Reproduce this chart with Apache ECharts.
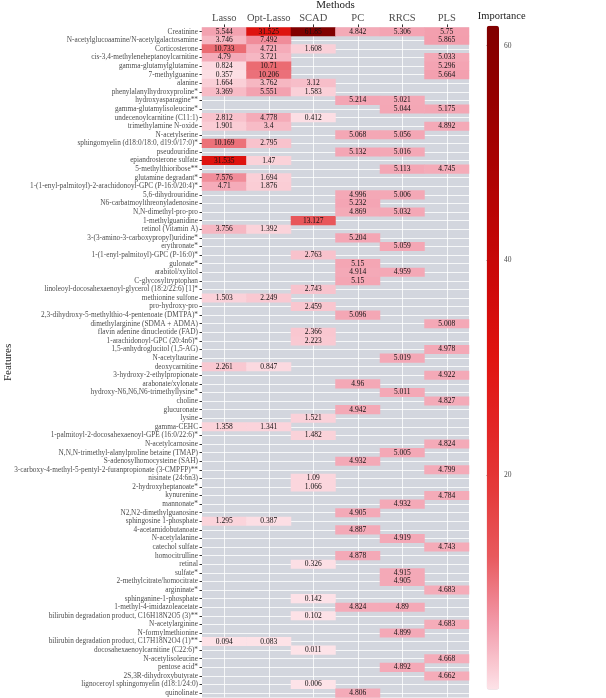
<!DOCTYPE html>
<html><head><meta charset="utf-8">
<script src="https://cdn.jsdelivr.net/npm/echarts@6/dist/echarts.min.js"></script>
<style>html,body{margin:0;padding:0;background:#fff}#c{width:606px;height:698px}</style>
</head><body><div id="c"></div>
<script>
const _ = null;
const methods = ['Lasso','Opt-Lasso','SCAD','PC','RRCS','PLS'];
const features = [
'Creatinine','N-acetylglucoaamine/N-acetylgalactosamine','Corticosterone','cis-3,4-methyleneheptanoylcarnitine','gamma-glutamylglutamine',
'7-methylguanine','alanine','phenylalanylhydroxyproline*','hydroxyasparagine**','gamma-glutamylisoleucine*',
'undecenoylcarnitine (C11:1)','trimethylamine N-oxide','N-acetylserine','sphingomyelin (d18:0/18:0, d19:0/17:0)*','pseudouridine',
'epiandrosterone sulfate','5-methylthioribose**','glutamine degradant*','1-(1-enyl-palmitoyl)-2-arachidonoyl-GPC (P-16:0/20:4)*','5,6-dihydrouridine',
'N6-carbatmoylthreonyladenosine','N,N-dimethyl-pro-pro','1-methylguanidine','retinol (Vitamin A)','3-(3-amino-3-carboxypropyl)uridine*',
'erythronate*','1-(1-enyl-palmitoyl)-GPC (P-16:0)*','gulonate*','arabitol/xylitol','C-glycosyltryptophan',
'linoleoyl-docosahexaenoyl-glycerol (18:2/22:6) [1]*','methionine sulfone','pro-hydroxy-pro','2,3-dihydroxy-5-methylthio-4-pentenoate (DMTPA)*','dimethylarginine (SDMA + ADMA)',
'flavin adenine dinucleotide (FAD)','1-arachidonoyl-GPC (20:4n6)*','1,5-anhydroglucitol (1,5-AG)','N-acetyltaurine','deoxycarnitine',
'3-hydroxy-2-ethylpropionate','arabonate/xylonate','hydroxy-N6,N6,N6-trimethyllysine*','choline','glucuronate',
'lysine','gamma-CEHC','1-palmitoyl-2-docosahexaenoyl-GPE (16:0/22:6)*','N-acetylcarnosine','N,N,N-trimethyl-alanylproline betaine (TMAP)',
'S-adenosylhomocysteine (SAH)','3-carboxy-4-methyl-5-pentyl-2-furanpropionate (3-CMPFP)**','nisinate (24:6n3)','2-hydroxyheptanoate*','kynurenine',
'mannonate*','N2,N2-dimethylguanosine','sphingosine 1-phosphate','4-acetamidobutanoate','N-acetylalanine',
'catechol sulfate','homocitrulline','retinal','sulfate*','2-methylcitrate/homocitrate',
'argininate*','sphinganine-1-phosphate','1-methyl-4-imidazoleacetate','bilirubin degradation product, C16H18N2O5 (3)**','N-acetylarginine',
'N-formylmethionine','bilirubin degradation product, C17H18N2O4 (1)**','docosahexaenoylcarnitine (C22:6)*','N-acetylisoleucine','pentose acid*',
'2S,3R-dihydroxybutyrate','lignoceroyl sphingomyelin (d18:1/24:0)','quinolinate'
];
const lasso = [
 5.544,3.746,10.733,4.79,0.824,0.357,1.664,3.369,_,_,
 2.812,1.901,_,10.169,_,31.535,_,7.576,4.71,_,
 _,_,_,3.756,_,_,_,_,_,_,
 _,1.503,_,_,_,_,_,_,_,2.261,
 _,_,_,_,_,_,1.358,_,_,_,
 _,_,_,_,_,_,_,1.295,_,_,
 _,_,_,_,_,_,_,_,_,_,
 _,0.094,_,_,_,_,_,_
];
const optLasso = [
 31.525,7.492,4.721,3.721,10.71,10.206,3.762,5.551,_,_,
 4.778,3.4,_,2.795,_,1.47,_,1.694,1.876,_,
 _,_,_,1.392,_,_,_,_,_,_,
 _,2.249,_,_,_,_,_,_,_,0.847,
 _,_,_,_,_,_,1.341,_,_,_,
 _,_,_,_,_,_,_,0.387,_,_,
 _,_,_,_,_,_,_,_,_,_,
 _,0.083,_,_,_,_,_,_
];
const scad = [
 61.85,_,1.608,_,_,_,3.12,1.583,_,_,
 0.412,_,_,_,_,_,_,_,_,_,
 _,_,13.127,_,_,_,2.763,_,_,_,
 2.743,_,2.459,_,_,2.366,2.223,_,_,_,
 _,_,_,_,_,1.521,_,1.482,_,_,
 _,_,1.09,1.066,_,_,_,_,_,_,
 _,_,0.326,_,_,_,0.142,_,0.102,_,
 _,_,0.011,_,_,_,0.006,_
];
const pc = [
 4.842,_,_,_,_,_,_,_,5.214,_,
 _,_,5.068,_,5.132,_,_,_,_,4.996,
 5.232,4.869,_,_,5.204,_,_,5.15,4.914,5.15,
 _,_,_,5.096,_,_,_,_,_,_,
 _,4.96,_,_,4.942,_,_,_,_,_,
 4.932,_,_,_,_,_,4.905,_,4.887,_,
 _,4.878,_,_,_,_,_,4.824,_,_,
 _,_,_,_,_,_,_,4.806
];
const rrcs = [
 5.306,_,_,_,_,_,_,_,5.021,5.044,
 _,_,5.056,_,5.016,_,5.113,_,_,5.006,
 _,5.032,_,_,_,5.059,_,_,4.959,_,
 _,_,_,_,_,_,_,_,5.019,_,
 _,_,5.011,_,_,_,_,_,_,5.005,
 _,_,_,_,_,4.932,_,_,_,4.919,
 _,_,_,4.915,4.905,_,_,4.89,_,_,
 4.899,_,_,_,4.892,_,_,_
];
const pls = [
 5.75,5.865,_,5.033,5.296,5.664,_,_,_,5.175,
 _,4.892,_,_,_,_,4.745,_,_,_,
 _,_,_,_,_,_,_,_,_,_,
 _,_,_,_,5.008,_,_,4.978,_,_,
 4.922,_,_,4.827,_,_,_,_,4.824,_,
 _,4.799,_,_,4.784,_,_,_,_,_,
 4.743,_,_,_,_,4.683,_,_,_,4.683,
 _,_,_,4.668,_,4.662,_,_
];
const colorTicks = [20, 40, 60];
const valueMax = 61.85;

const columns = [lasso, optLasso, scad, pc, rrcs, pls];
const data = [];
columns.forEach((col, m) => col.forEach((v, i) => { if (v !== null) data.push([m, i, v]); }));

const SERIF = '"Liberation Serif", "DejaVu Serif", serif';
const chart = echarts.init(document.getElementById('c'), null, {renderer: 'canvas'});
chart.setOption({
  animation: false,
  backgroundColor: '#fff',
  grid: [
    {left: 202, top: 27.4, width: 267, height: 670, show: true, backgroundColor: '#d3d6de', borderWidth: 0, containLabel: false, outerBoundsMode: 'none'},
    {left: 486.7, top: 25.7, width: 12.3, height: 664, show: false, outerBoundsMode: 'none'}
  ],
  xAxis: [{
    type: 'category', data: methods, position: 'top', gridIndex: 0,
    axisLine: {show: false},
    axisTick: {show: true, alignWithLabel: true, length: 3, lineStyle: {color: '#333'}},
    axisLabel: {fontSize: 10.5, color: '#4d4d4d', margin: 4, fontFamily: SERIF, interval: 0},
    splitLine: {show: true, alignWithLabel: true, interval: 0, lineStyle: {color: '#fff', width: 0.8}},
    name: 'Methods', nameLocation: 'middle', nameGap: 16.5, nameMoveOverlap: false,
    nameTextStyle: {fontSize: 11, color: '#222', fontFamily: SERIF}
  }, {
    type: 'value', gridIndex: 1, show: false
  }],
  yAxis: [{
    type: 'category', data: features, inverse: true, gridIndex: 0,
    axisLine: {show: false},
    axisTick: {show: true, alignWithLabel: true, length: 2.5, interval: 0, lineStyle: {color: '#333'}},
    axisLabel: {fontSize: 7.3, color: '#4d4d4d', margin: 4, fontFamily: SERIF, interval: 0},
    splitLine: {show: true, alignWithLabel: true, interval: 0, lineStyle: {color: '#fff', width: 0.8}},
    name: 'Features', nameLocation: 'middle', nameGap: 188.5, nameRotate: 90, nameMoveOverlap: false,
    nameTextStyle: {fontSize: 11, color: '#222', fontFamily: SERIF}
  }, {
    type: 'value', gridIndex: 1, position: 'right', min: 0, max: valueMax, interval: 20,
    axisLine: {show: false},
    axisTick: {show: true, length: 3, lineStyle: {color: '#333'}, customValues: colorTicks},
    axisLabel: {fontSize: 7.5, color: '#4d4d4d', margin: 5, fontFamily: SERIF, customValues: colorTicks},
    splitLine: {show: false},
    name: 'Importance', nameLocation: 'end', nameGap: 4, nameMoveOverlap: false,
    nameTextStyle: {fontSize: 10.5, color: '#222', fontFamily: SERIF, padding: [0, 0, 0, 30]}
  }],
  visualMap: {
    type: 'continuous', min: 0, max: valueMax, dimension: 2, seriesIndex: 0,
    calculable: false, orient: 'vertical', left: 486.7, top: 25.7, padding: 0,
    itemWidth: 12.3, itemHeight: 664, text: null, showLabel: false,
    inRange: {color: ['#fde3e8','#f29aaa','#e85a5e','#e43a3a','#e22424','#e01410','#cf0a0a','#bd0505','#a80202','#930000','#800000']}
  },
  series: [{
    type: 'heatmap', xAxisIndex: 0, yAxisIndex: 0, data: data,
    itemStyle: {borderWidth: 0},
    label: {show: true, formatter: p => String(p.value[2]), fontSize: 7.5, color: '#111', fontFamily: SERIF},
    emphasis: {disabled: true}
  }]
});
</script></body></html>
